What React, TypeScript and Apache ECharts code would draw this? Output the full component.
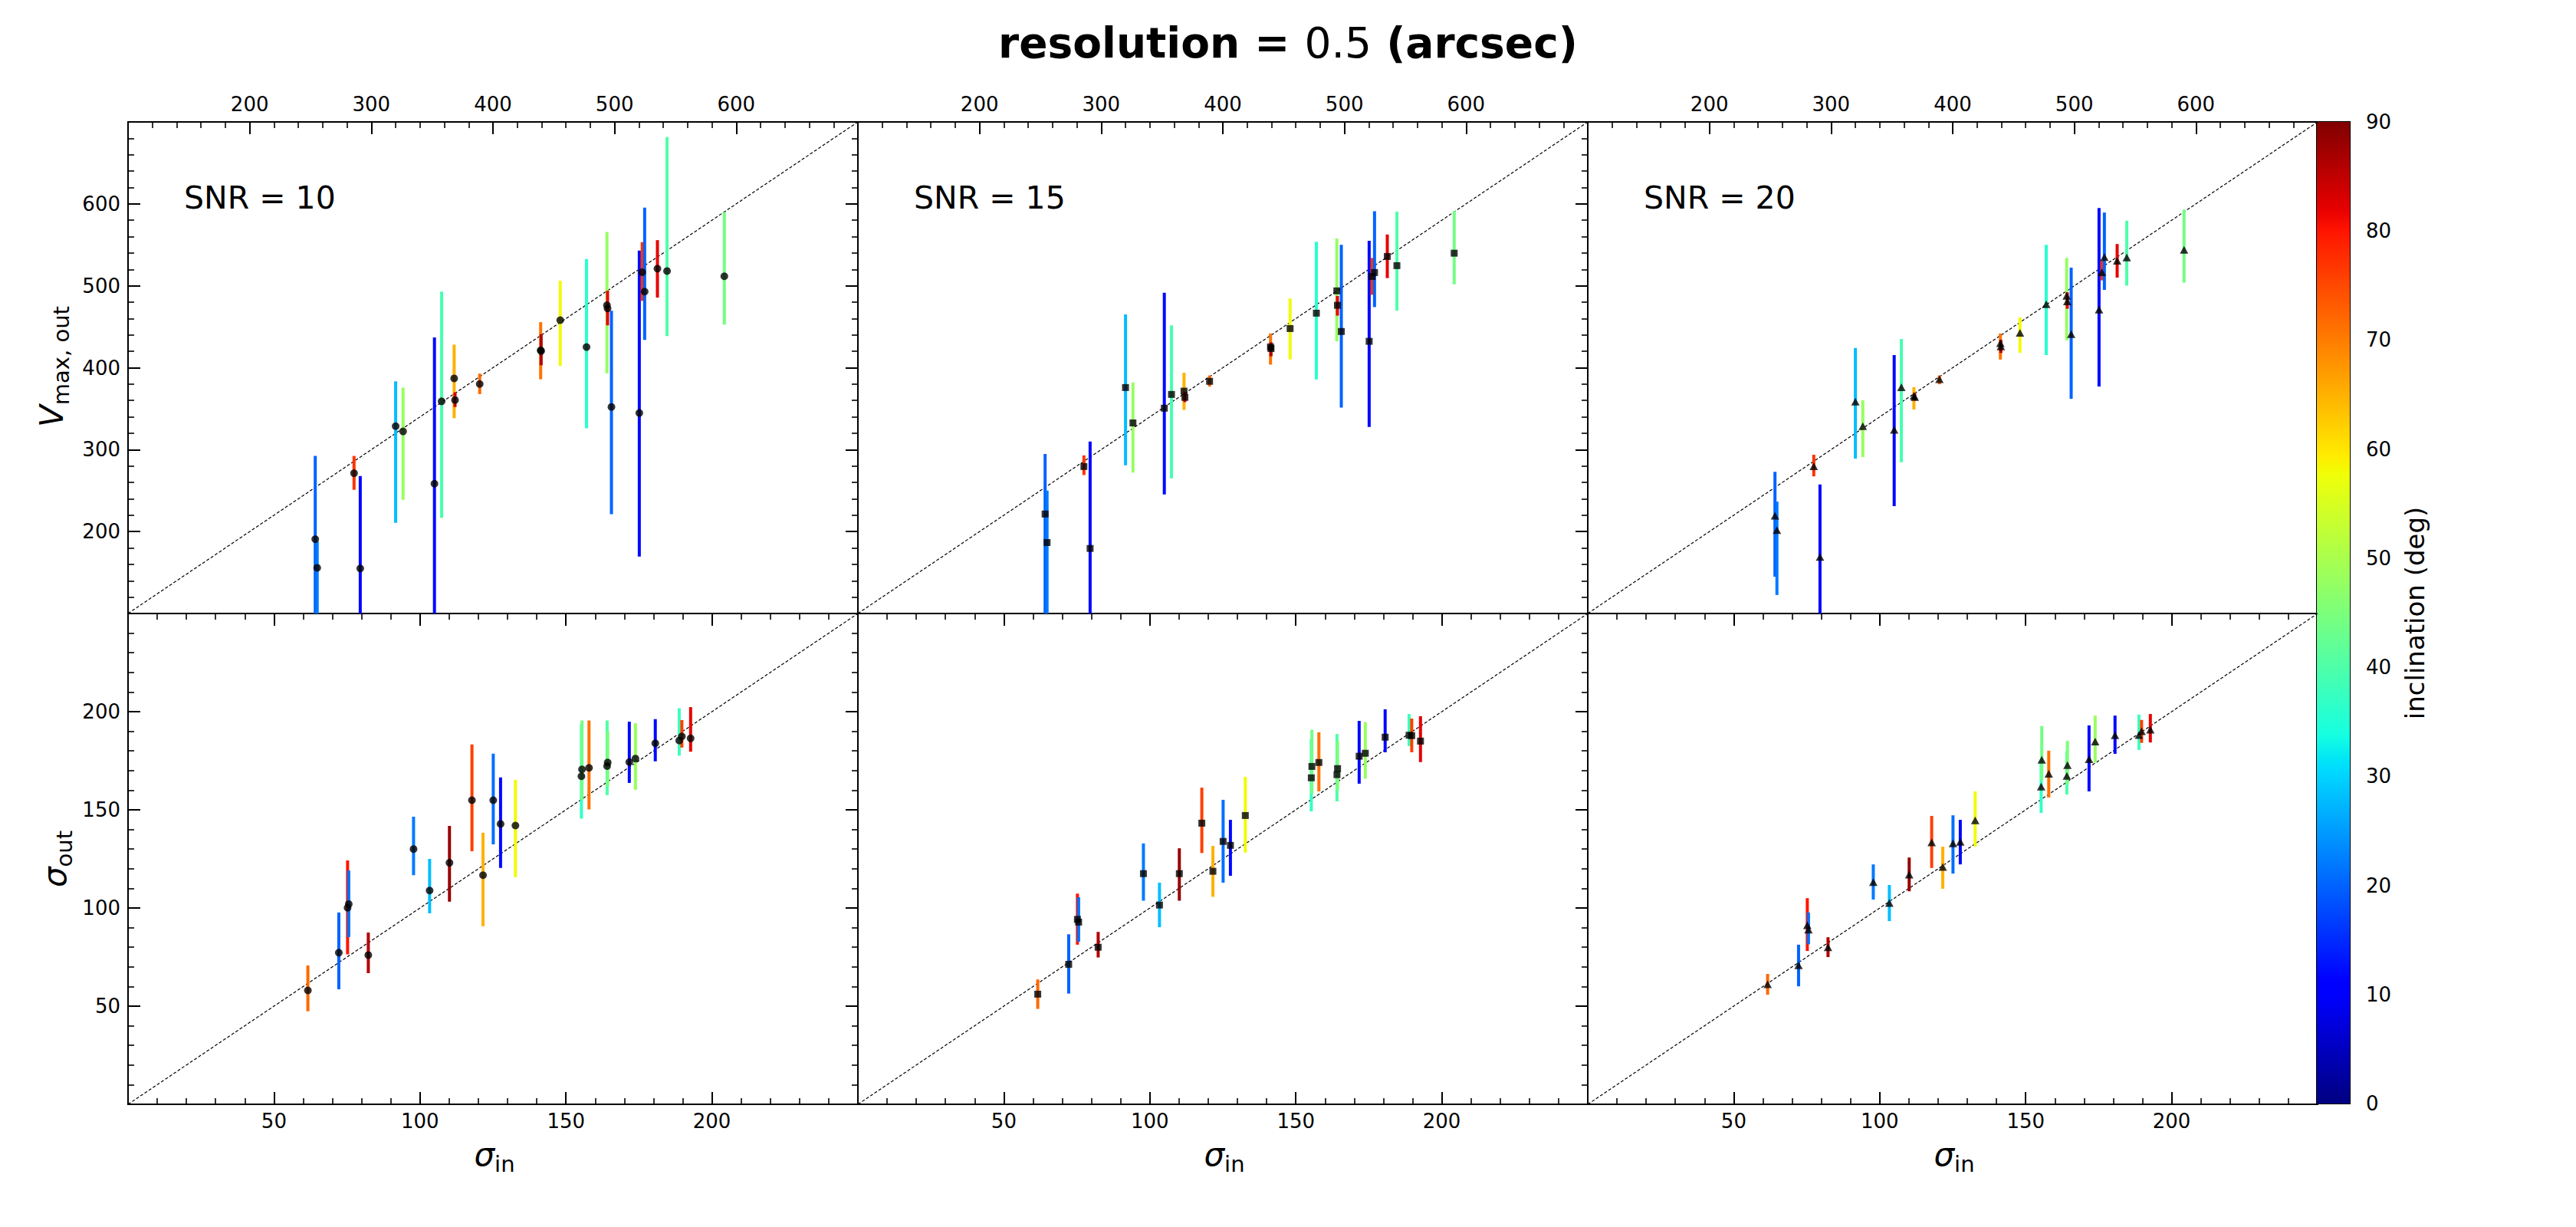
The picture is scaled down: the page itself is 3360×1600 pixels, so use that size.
import React, { useEffect, useRef } from "react";
import * as echarts from "echarts";

// ---------------- data ----------------
const snrValues = [10, 15, 20];
const snrSymbols = ["circle", "rect", "triangle"];
const snrSymbolSizes: any[] = [10, 9, [11, 10]];

const vmaxRange = [100, 700];
const sigmaRange = [0, 250];
const inclRange = [0, 90];

const vmaxIn = [253.9, 255.5, 285.8, 290.9, 320.0, 326.1, 351.9, 357.8, 368.1, 368.8, 389.1, 439.2, 439.6, 455.3, 476.9, 493.7, 494.2, 497.4, 520.3, 522.7, 524.7, 535.2, 543.1, 590.2];
const vmaxIncl = [20, 22, 77, 12, 28, 48, 12, 39, 65, 84, 72, 71, 86, 58, 36, 48, 82, 20, 12, 77, 20, 82, 40, 44];

const vmaxOutSnr10 = [190.7, 155.8, 271.2, 154.9, 328.6, 322.2, 258.4, 359.0, 387.0, 360.5, 380.1, 421.3, 420.3, 458.0, 425.2, 476.2, 472.3, 352.1, 344.7, 516.5, 492.9, 520.9, 518.0, 511.6];
const vmaxLoSnr10 = [80, 60, 251, 40, 210.8, 238.8, 60, 216.7, 338.4, 352, 367.8, 385.9, 403, 402.2, 326, 393.3, 451.7, 221.1, 169.6, 481.6, 434, 485.6, 438.5, 452.7];
const vmaxHiSnr10 = [292.3, 188, 292.3, 267.7, 383.5, 375.7, 437, 492.9, 428.2, 370, 392.8, 455.6, 441, 506.2, 532.7, 565.6, 494, 469.4, 542.9, 553.3, 595.5, 555.7, 681.4, 590.1];

const vmaxOutSnr15 = [221.4, 186.6, 279.4, 179.4, 375.8, 332.6, 350.6, 367.4, 371.4, 363.8, 383.4, 425.4, 423.4, 447.8, 466.6, 493.8, 476.2, 444.2, 432.2, 511.4, 516.2, 535.8, 524.6, 539.8];
const vmaxLoSnr15 = [60, 60, 269, 50, 281, 272, 245.4, 265, 348.6, 358, 377, 403.8, 414, 410.2, 385.8, 432.2, 463.6, 351.4, 327.8, 489, 474, 509.4, 469.8, 501.8];
const vmaxHiSnr15 = [294.6, 250, 293, 309.8, 465, 382, 491.4, 451.8, 393.8, 370, 390.6, 441.8, 431, 484.6, 553.8, 557.8, 487.6, 550, 555, 534, 591, 562.6, 590.6, 591.4];

const vmaxOutSnr20 = [219.4, 201.8, 279.8, 169, 358.6, 328.6, 324.2, 376.2, 365.8, 364.2, 386, 430, 426, 442.6, 477.4, 487.8, 481, 441, 471, 516.6, 535, 530.6, 534.6, 543.8];
const vmaxLoSnr20 = [145, 122.6, 267.4, 50, 289, 291, 231, 284.6, 349, 360, 379.8, 410, 418, 418.2, 415.4, 433.4, 472, 362.2, 377, 506.6, 495, 510, 500.2, 503.8];
const vmaxHiSnr20 = [273, 236.6, 293.8, 257.4, 424, 360.2, 415.4, 435, 376.2, 369, 390.6, 441.8, 434, 461.4, 550, 534, 492, 522.2, 595, 530.6, 589.4, 551, 579.4, 593];

const sigmaIn = [61.6, 72.2, 75.2, 75.6, 82.3, 97.8, 103.3, 110.1, 117.8, 121.6, 125.1, 127.6, 132.7, 155.3, 155.5, 157.9, 164.1, 164.3, 171.7, 173.8, 180.6, 188.8, 189.7, 192.7];
const sigmaIncl = [72, 20, 80, 21, 86, 22, 28, 88, 76, 65, 21, 12, 58, 37, 44, 71, 40, 45, 12, 48, 12, 38, 76, 82];

const sigmaOutSnr10 = [58, 77.2, 100.1, 102, 76, 130, 108.9, 123, 154.9, 116.7, 154.9, 142.8, 142, 167.1, 170.6, 171.4, 172.3, 174.1, 174.3, 176.1, 183.9, 185.3, 187.4, 186.4];
const sigmaLoSnr10 = [47.4, 58.6, 76.4, 85.2, 66.8, 116.7, 97.3, 103.2, 128.9, 90.7, 132.4, 120.4, 115.7, 145.5, 155, 150.2, 157.5, 162, 163.7, 160.2, 174.7, 177.6, 181.7, 179.6];
const sigmaHiSnr10 = [70.7, 97.7, 124.2, 119.1, 87.5, 146.5, 125, 141.8, 183.3, 138.3, 178.6, 166.5, 165.3, 193.5, 195.5, 195.5, 195.5, 190, 194.9, 194.1, 196.2, 201.7, 195.7, 202.3];

const sigmaOutSnr15 = [56.1, 71.3, 94.2, 92.8, 80, 117.5, 101.5, 117.5, 143.2, 118.7, 133.9, 131.9, 147.1, 166.3, 172.1, 174.1, 167.9, 171, 177.3, 178.8, 187, 188, 187.8, 185];
const sigmaLoSnr15 = [48.6, 56.4, 81.3, 82.8, 74.8, 103.7, 90.2, 103.7, 128, 105.7, 112.9, 116.4, 128.2, 149.2, 158, 159.4, 154.3, 160, 163.3, 165.9, 179.3, 182.5, 179.3, 174.3];
const sigmaHiSnr15 = [63.6, 86.6, 107.3, 105.5, 87.8, 132.9, 112.9, 130.4, 161.3, 131.6, 155.1, 144.9, 166.8, 186, 190.8, 189.5, 188.6, 185, 195.3, 194.7, 201.2, 198.8, 196.5, 197.7];

const sigmaOutSnr20 = [61.1, 70.8, 91.2, 89, 80, 113.2, 102.5, 117, 133.4, 120.9, 132.9, 133.7, 144.6, 161.8, 175.5, 168.4, 167.3, 172.8, 175.8, 184.8, 188, 188.1, 190, 190.8];
const sigmaLoSnr20 = [55.8, 60.1, 78.1, 81.5, 75, 104.3, 93.3, 108.5, 120.4, 109.8, 117.5, 122.2, 131.2, 148.4, 165, 156.3, 157.8, 163, 159.4, 174.1, 178.5, 180.5, 184.1, 184.3];
const sigmaHiSnr20 = [66.4, 81.3, 105, 97.7, 85.1, 122.2, 111.7, 125.7, 146.9, 131.2, 147.2, 144.9, 159.4, 175, 192.7, 180.1, 180, 185.1, 193, 198, 198, 198.5, 195.8, 198.8];

const vmaxOut = [vmaxOutSnr10, vmaxOutSnr15, vmaxOutSnr20];
const vmaxLo = [vmaxLoSnr10, vmaxLoSnr15, vmaxLoSnr20];
const vmaxHi = [vmaxHiSnr10, vmaxHiSnr15, vmaxHiSnr20];
const sigmaOut = [sigmaOutSnr10, sigmaOutSnr15, sigmaOutSnr20];
const sigmaLo = [sigmaLoSnr10, sigmaLoSnr15, sigmaLoSnr20];
const sigmaHi = [sigmaHiSnr10, sigmaHiSnr15, sigmaHiSnr20];

// matplotlib "jet" colormap segment data
const jetRed = [[0, 0], [0.35, 0], [0.66, 1], [0.89, 1], [1, 0.5]];
const jetGreen = [[0, 0], [0.125, 0], [0.375, 1], [0.64, 1], [0.91, 0], [1, 0]];
const jetBlue = [[0, 0.5], [0.11, 1], [0.34, 1], [0.65, 0], [1, 0]];
const jetBreaks = [0, 0.11, 0.125, 0.34, 0.35, 0.375, 0.64, 0.65, 0.66, 0.89, 0.91, 1];

// ---------------- helpers ----------------
function seg(s: number[][], t: number) {
  for (let i = 1; i < s.length; i++) {
    if (t <= s[i][0]) {
      const [x0, y0] = s[i - 1];
      const [x1, y1] = s[i];
      return y0 + ((y1 - y0) * (t - x0)) / (x1 - x0 || 1);
    }
  }
  return s[s.length - 1][1];
}
function jetT(t: number) {
  const c = Math.max(0, Math.min(1, t));
  const r = Math.round(seg(jetRed, c) * 255);
  const g = Math.round(seg(jetGreen, c) * 255);
  const b = Math.round(seg(jetBlue, c) * 255);
  return `rgb(${r},${g},${b})`;
}
function jet(incl: number) {
  return jetT((incl - inclRange[0]) / (inclRange[1] - inclRange[0]));
}

const FONT = "DejaVu Sans";
const PL = 167; // panel left
const PW = 952; // panel width
const PT = 159; // top row top
const PH = 641; // top row height
const BT = 800; // bottom row top
const BH = 640; // bottom row height

const errRender = (params: any, api: any) => {
  const x = api.value(0);
  const p1 = api.coord([x, api.value(1)]);
  const p2 = api.coord([x, api.value(2)]);
  return {
    type: "line",
    shape: { x1: p1[0], y1: p1[1], x2: p2[0], y2: p2[1] },
    style: { stroke: jet(api.value(3)), lineWidth: 4 },
  };
};

function tickAxisCommon() {
  return {
    splitLine: { show: false },
    axisLine: { show: false },
    axisTick: { show: true, inside: true, length: 16, lineStyle: { color: "#000", width: 2 } },
    minorTick: { show: true, splitNumber: 5, length: 8, lineStyle: { color: "#000", width: 1.6 } },
    axisLabel: { show: false },
  };
}

function labelStyle(margin: number) {
  return {
    show: true,
    color: "#000",
    fontFamily: FONT,
    fontSize: 26,
    margin,
    showMinLabel: false,
    showMaxLabel: false,
  };
}

function buildOption() {
  const grid: any[] = [];
  const xAxis: any[] = [];
  const yAxis: any[] = [];
  const series: any[] = [];
  const graphic: any[] = [];

  for (let c = 0; c < 3; c++) {
    grid.push({ left: PL + c * PW, top: PT, width: PW, height: PH, show: true, borderColor: "#000", borderWidth: 2, backgroundColor: "transparent" });
  }
  for (let c = 0; c < 3; c++) {
    grid.push({ left: PL + c * PW, top: BT, width: PW, height: BH, show: true, borderColor: "#000", borderWidth: 2, backgroundColor: "transparent" });
  }
  // colorbar grid
  grid.push({ left: PL + 3 * PW - 1, top: PT, width: 43, height: PH + BH - 1, show: true, borderColor: "#000", borderWidth: 2, backgroundColor: "transparent" });

  // x axes 0-2 : top row Vmax_in (top)
  for (let c = 0; c < 3; c++) {
    xAxis.push({ ...tickAxisCommon(), type: "value", gridIndex: c, position: "top", min: vmaxRange[0], max: vmaxRange[1], interval: 100, axisLabel: labelStyle(10) });
  }
  // x axes 3-5 : bottom row sigma_in (bottom)
  for (let c = 0; c < 3; c++) {
    xAxis.push({ ...tickAxisCommon(), type: "value", gridIndex: 3 + c, position: "bottom", min: sigmaRange[0], max: sigmaRange[1], interval: 50, axisLabel: labelStyle(9) });
  }
  // x axes 6-8 : bottom row sigma_in mirrored on top (ticks only)
  for (let c = 0; c < 3; c++) {
    xAxis.push({ ...tickAxisCommon(), type: "value", gridIndex: 3 + c, position: "top", min: sigmaRange[0], max: sigmaRange[1], interval: 50 });
  }
  // x axis 9 : colorbar
  xAxis.push({ type: "value", gridIndex: 6, min: 0, max: 1, show: false });

  // y axes 0-2 : top row Vmax_out
  for (let c = 0; c < 3; c++) {
    const base: any = tickAxisCommon();
    if (c > 0) {
      base.axisTick = { ...base.axisTick, inside: false };
      base.minorTick = { ...base.minorTick };
    }
    yAxis.push({ ...base, type: "value", gridIndex: c, position: "left", min: vmaxRange[0], max: vmaxRange[1], interval: 100, axisLabel: c === 0 ? labelStyle(10) : { show: false } });
  }
  // y axes 3-5 : bottom row sigma_out
  for (let c = 0; c < 3; c++) {
    const base: any = tickAxisCommon();
    if (c > 0) {
      base.axisTick = { ...base.axisTick, inside: false };
    }
    yAxis.push({ ...base, type: "value", gridIndex: 3 + c, position: "left", min: sigmaRange[0], max: sigmaRange[1], interval: 50, axisLabel: c === 0 ? labelStyle(10) : { show: false } });
  }
  // y axis 6 : colorbar
  yAxis.push({
    type: "value",
    gridIndex: 6,
    position: "right",
    min: inclRange[0],
    max: inclRange[1],
    interval: 10,
    splitLine: { show: false },
    axisLine: { show: false },
    axisTick: { show: true, inside: false, length: 10, lineStyle: { color: "#000", width: 2 } },
    axisLabel: { show: true, color: "#000", fontFamily: FONT, fontSize: 26, margin: 21 },
  });

  const diagTop = [[vmaxRange[0], vmaxRange[0]], [vmaxRange[1], vmaxRange[1]]];
  const diagBottom = [[sigmaRange[0], sigmaRange[0]], [sigmaRange[1], sigmaRange[1]]];

  for (let c = 0; c < 3; c++) {
    // diagonal lines
    series.push({
      type: "line", xAxisIndex: c, yAxisIndex: c, data: diagTop, symbol: "none", silent: true, z: 1,
      lineStyle: { color: "#000", width: 1.2, type: [4, 2.5] },
    });
    series.push({
      type: "line", xAxisIndex: 3 + c, yAxisIndex: 3 + c, data: diagBottom, symbol: "none", silent: true, z: 1,
      lineStyle: { color: "#000", width: 1.2, type: [4, 2.5] },
    });
    // error bars
    series.push({
      type: "custom", xAxisIndex: c, yAxisIndex: c, clip: true, z: 2, silent: true,
      renderItem: errRender, encode: { x: 0, y: [1, 2] },
      data: vmaxIn.map((x, i) => [x, vmaxLo[c][i], vmaxHi[c][i], vmaxIncl[i]]),
    });
    series.push({
      type: "custom", xAxisIndex: 3 + c, yAxisIndex: 3 + c, clip: true, z: 2, silent: true,
      renderItem: errRender, encode: { x: 0, y: [1, 2] },
      data: sigmaIn.map((x, i) => [x, sigmaLo[c][i], sigmaHi[c][i], sigmaIncl[i]]),
    });
    // markers
    series.push({
      type: "scatter", xAxisIndex: c, yAxisIndex: c, z: 3, silent: true,
      symbol: snrSymbols[c], symbolSize: snrSymbolSizes[c],
      itemStyle: { color: "#000" },
      data: vmaxIn.map((x, i) => [x, vmaxOut[c][i]]),
    });
    series.push({
      type: "scatter", xAxisIndex: 3 + c, yAxisIndex: 3 + c, z: 3, silent: true,
      symbol: snrSymbols[c], symbolSize: snrSymbolSizes[c],
      itemStyle: { color: "#000" },
      data: sigmaIn.map((x, i) => [x, sigmaOut[c][i]]),
    });

    // panel annotations
    graphic.push({
      type: "text", x: PL + c * PW + 73, y: 258,
      style: { text: `SNR = ${snrValues[c]}`, fontFamily: FONT, fontSize: 41, fill: "#000", align: "left", verticalAlign: "middle" },
    });
    graphic.push({
      type: "text", x: PL + c * PW + PW / 2 + 2, y: 1508,
      style: {
        text: "{m|σ}{s|in}", align: "center", verticalAlign: "middle", fill: "#000",
        rich: {
          m: { fontFamily: FONT, fontStyle: "italic", fontSize: 42, verticalAlign: "top", lineHeight: 48, fill: "#000" },
          s: { fontFamily: FONT, fontSize: 29, verticalAlign: "bottom", lineHeight: 20, fill: "#000" },
        },
      },
    });
  }

  // colorbar gradient
  const stops = jetBreaks.map((t) => ({ offset: t, color: jetT(t) }));
  series.push({
    type: "custom", xAxisIndex: 9, yAxisIndex: 6, silent: true, z: 1,
    encode: { x: 0, y: [1, 2] },
    data: [[0, inclRange[0], inclRange[1]]],
    renderItem: (params: any, api: any) => {
      const p0 = api.coord([0, api.value(1)]);
      const p1 = api.coord([1, api.value(2)]);
      return {
        type: "rect",
        shape: { x: p0[0], y: p1[1], width: p1[0] - p0[0], height: p0[1] - p1[1] },
        style: { fill: { type: "linear", x: 0, y: 1, x2: 0, y2: 0, colorStops: stops } },
      };
    },
  });

  // axis titles
  graphic.push({
    type: "text", x: 70, y: 478, rotation: Math.PI / 2,
    style: {
      text: "{m|V}{s|max, out}", align: "center", verticalAlign: "middle", fill: "#000",
      rich: {
        m: { fontFamily: FONT, fontStyle: "italic", fontSize: 42, verticalAlign: "top", lineHeight: 48, fill: "#000" },
        s: { fontFamily: FONT, fontSize: 29, verticalAlign: "bottom", lineHeight: 20, fill: "#000" },
      },
    },
  });
  graphic.push({
    type: "text", x: 74, y: 1120, rotation: Math.PI / 2,
    style: {
      text: "{m|σ}{s|out}", align: "center", verticalAlign: "middle", fill: "#000",
      rich: {
        m: { fontFamily: FONT, fontStyle: "italic", fontSize: 42, verticalAlign: "top", lineHeight: 48, fill: "#000" },
        s: { fontFamily: FONT, fontSize: 29, verticalAlign: "bottom", lineHeight: 20, fill: "#000" },
      },
    },
  });
  graphic.push({
    type: "text", x: 3150, y: PT + (PH + BH) / 2, rotation: Math.PI / 2,
    style: { text: "inclination (deg)", fontFamily: FONT, fontSize: 34, fill: "#000", align: "center", verticalAlign: "middle" },
  });
  // figure title
  graphic.push({
    type: "text", x: 1680, y: 56,
    style: {
      text: "{b|resolution = }{n|0.5}{b| (arcsec)}", align: "center", verticalAlign: "middle", fill: "#000",
      rich: {
        b: { fontFamily: FONT, fontWeight: "bold", fontSize: 55, fill: "#000" },
        n: { fontFamily: FONT, fontSize: 55, fill: "#000" },
      },
    },
  });

  return {
    animation: false,
    backgroundColor: "#fff",
    grid,
    xAxis,
    yAxis,
    series,
    graphic,
  };
}

export default function App() {
  const ref = useRef<HTMLDivElement>(null);
  useEffect(() => {
    document.body.style.margin = "0";
    const chart = echarts.init(ref.current!, null, { renderer: "svg" });
    chart.setOption(buildOption() as any);
    return () => chart.dispose();
  }, []);
  return <div ref={ref} style={{ width: 3360, height: 1600 }} />;
}
